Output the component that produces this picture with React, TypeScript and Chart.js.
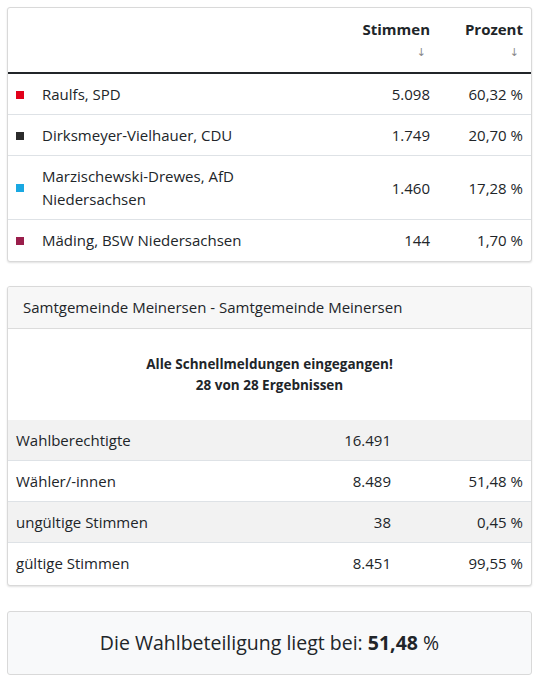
import React, { useEffect, useRef } from "react";
import { Chart, registerables } from "chart.js";

Chart.register(...registerables);

const candidates = [
  "Raulfs, SPD",
  "Dirksmeyer-Vielhauer, CDU",
  "Marzischewski-Drewes, AfD Niedersachsen",
  "Mäding, BSW Niedersachsen",
];
const votes = [5098, 1749, 1460, 144];
const percents = [60.32, 20.7, 17.28, 1.7];
const partyColors = ["#E2001A", "#2B2B2B", "#1AA8E2", "#9A1E4B"];

const summaryLabels = ["Wahlberechtigte", "Wähler/-innen", "ungültige Stimmen", "gültige Stimmen"];
const summaryValues = [16491, 8489, 38, 8451];
const summaryPercents: (number | null)[] = [null, 51.48, 0.45, 99.55];

const areaTitle = "Samtgemeinde Meinersen - Samtgemeinde Meinersen";
const statusLines = ["Alle Schnellmeldungen eingegangen!", "28 von 28 Ergebnissen"];
const turnout = 51.48;

const FONT = "'Open Sans', 'Noto Sans', sans-serif";
const TEXT = "#212529";
const LINE = "#dee2e6";

function fmtInt(n: number): string {
  const s = String(Math.round(n));
  return s.replace(/\B(?=(\d{3})+(?!\d))/g, ".");
}
function fmtPct(n: number): string {
  return n.toFixed(2).replace(".", ",") + " %";
}

function Marker({ color }: { color: string }) {
  const ref = useRef<HTMLCanvasElement | null>(null);
  useEffect(() => {
    if (!ref.current) return;
    const chart = new Chart(ref.current, {
      type: "bar",
      data: {
        labels: [""],
        datasets: [
          {
            data: [1],
            backgroundColor: color,
            borderWidth: 0,
            barPercentage: 1,
            categoryPercentage: 1,
          },
        ],
      },
      options: {
        animation: false,
        responsive: false,
        devicePixelRatio: 2,
        layout: { padding: 0 },
        plugins: { legend: { display: false }, tooltip: { enabled: false } },
        scales: {
          x: { display: false },
          y: { display: false, min: 0, max: 1 },
        },
        events: [],
      },
    });
    return () => chart.destroy();
  }, [color]);
  return <canvas ref={ref} width={8} height={8} style={{ width: 8, height: 8, display: "block" }} />;
}

export default function App() {
  useEffect(() => {
    document.body.style.margin = "0";
  }, []);

  const card: React.CSSProperties = {
    border: "1px solid #d9d9d9",
    borderRadius: 3,
    background: "#fff",
    boxShadow: "0 1px 2px rgba(0,0,0,0.12)",
    overflow: "hidden",
  };
  const cell: React.CSSProperties = {
    padding: "9px 9px 8px 9px",
    lineHeight: "23px",
    verticalAlign: "middle",
  };
  const arrow: React.CSSProperties = {
    fontFamily: "'DejaVu Sans', sans-serif",
    fontSize: 11,
    color: "#8a8a8a",
    fontWeight: 400,
    paddingRight: 4,
  };

  return (
    <div
      style={{
        padding: "7px 3px 0 7px",
        fontFamily: FONT,
        fontSize: 15,
        color: TEXT,
        width: 525,
      }}
    >
      <div style={{ ...card, paddingBottom: 1 }}>
        <table style={{ width: "100%", borderCollapse: "collapse", tableLayout: "fixed" }}>
          <colgroup>
            <col style={{ width: 25 }} />
            <col />
            <col style={{ width: 100 }} />
            <col style={{ width: 92 }} />
          </colgroup>
          <thead>
            <tr style={{ borderBottom: `2px solid ${TEXT}` }}>
              <th style={{ ...cell, paddingTop: 10, paddingLeft: 8 }} />
              <th style={{ ...cell, paddingTop: 10 }} />
              <th style={{ ...cell, paddingTop: 10, textAlign: "right", fontWeight: 700 }}>
                <div>Stimmen</div>
                <div style={arrow}>↓</div>
              </th>
              <th style={{ ...cell, paddingTop: 10, paddingRight: 8, textAlign: "right", fontWeight: 700 }}>
                <div>Prozent</div>
                <div style={arrow}>↓</div>
              </th>
            </tr>
          </thead>
          <tbody>
            {candidates.map((c, i) => (
              <tr key={c} style={{ borderTop: i > 0 ? `1px solid ${LINE}` : undefined }}>
                <td style={{ ...cell, paddingLeft: 8, paddingRight: 0 }}>
                  <Marker color={partyColors[i]} />
                </td>
                <td style={cell}>{c}</td>
                <td style={{ ...cell, textAlign: "right" }}>{fmtInt(votes[i])}</td>
                <td style={{ ...cell, paddingRight: 8, textAlign: "right" }}>{fmtPct(percents[i])}</td>
              </tr>
            ))}
          </tbody>
        </table>
      </div>

      <div style={{ ...card, marginTop: 24, paddingBottom: 2 }}>
        <div
          style={{
            padding: "9px 15px",
            lineHeight: "23px",
            background: "#f7f7f7",
            borderBottom: "1px solid #dcdcdc",
          }}
        >
          {areaTitle}
        </div>
        <div
          style={{
            padding: "25px 0 24px 0",
            textAlign: "center",
            fontWeight: 700,
            fontSize: 13.5,
            lineHeight: "21px",
          }}
        >
          {statusLines.map((l) => (
            <div key={l}>{l}</div>
          ))}
        </div>
        <table style={{ width: "100%", borderCollapse: "collapse", tableLayout: "fixed" }}>
          <colgroup>
            <col />
            <col style={{ width: 120 }} />
            <col style={{ width: 131 }} />
          </colgroup>
          <tbody>
            {summaryLabels.map((l, i) => (
              <tr
                key={l}
                style={{
                  background: i % 2 === 0 ? "#f2f2f2" : "#fff",
                  borderTop: i > 0 ? `1px solid ${LINE}` : undefined,
                }}
              >
                <td style={{ ...cell, paddingLeft: 8 }}>{l}</td>
                <td style={{ ...cell, textAlign: "right" }}>{fmtInt(summaryValues[i])}</td>
                <td style={{ ...cell, paddingRight: 8, textAlign: "right" }}>
                  {summaryPercents[i] === null ? "" : fmtPct(summaryPercents[i] as number)}
                </td>
              </tr>
            ))}
          </tbody>
        </table>
      </div>

      <div
        style={{
          marginTop: 25,
          background: "#f8f9fa",
          border: "1px solid #d9d9d9",
          borderRadius: 3,
          padding: "16px 0",
          textAlign: "center",
          fontSize: 19.5,
          lineHeight: "30px",
        }}
      >
        Die Wahlbeteiligung liegt bei: <b>{fmtPct(turnout).replace(" %", "")}</b> %
      </div>
    </div>
  );
}
